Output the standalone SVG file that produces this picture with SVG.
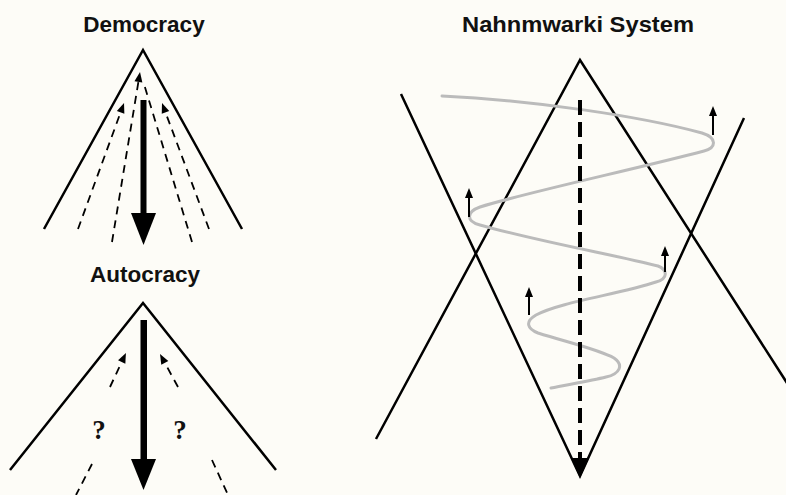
<svg xmlns="http://www.w3.org/2000/svg" width="786" height="495" viewBox="0 0 786 495">
<defs>
<style>
.title{font-family:"Liberation Sans",Arial,sans-serif;font-weight:bold;font-size:22.5px;fill:#111;text-anchor:middle}
.q{font-family:"Liberation Serif","Times New Roman",serif;font-weight:bold;font-size:27px;fill:#111;text-anchor:middle}
.edge{fill:none;stroke:#000;stroke-width:2.5;stroke-linejoin:miter;stroke-miterlimit:10}
.dash{fill:none;stroke:#000;stroke-width:1.8;stroke-dasharray:8 6}
.bigdash{fill:none;stroke:#000;stroke-width:4;stroke-dasharray:15 7}
.thin{fill:none;stroke:#000;stroke-width:2}
.spiral{fill:none;stroke:#bbb;stroke-width:3;stroke-linecap:round}
.solid{fill:#000}
</style>
<marker id="ah" markerUnits="userSpaceOnUse" markerWidth="12" markerHeight="10" refX="0" refY="5" orient="auto" overflow="visible">
<path d="M0,1 L10,5 L0,9 z" fill="#000"/>
</marker>
</defs>
<rect width="786" height="495" fill="#fdfcf7"/>

<g id="democracy">
<text class="title" x="144" y="32">Democracy</text>
<polyline class="edge" points="44,229 143,50 242,229"/>
<rect class="solid" x="140.5" y="100" width="6" height="114"/>
<polygon class="solid" points="131,213 156,213 143.5,245"/>
</g>

<g id="autocracy">
<text class="title" x="145" y="282">Autocracy</text>
<polyline class="edge" points="10,470 143,303 276,470"/>
<rect class="solid" x="140.5" y="320" width="6.5" height="140"/>
<polygon class="solid" points="131,459 156,459 143.5,490"/>
<text class="q" x="99" y="439">?</text>
<text class="q" x="180" y="439">?</text>
</g>

<g id="nahnmwarki">
<text class="title" x="578" y="32" textLength="232" lengthAdjust="spacingAndGlyphs">Nahnmwarki System</text>
<polyline class="edge" points="376,439 580,60 787,383"/>
<polyline class="edge" points="401,94 580,476 744,118"/>
<path class="spiral" d="M442,96 C530,100 640,116 702,133 C718,138 716,148 704,151 C640,168 520,194 480,207 C466,212 466,221 480,225 C540,242 620,256 658,266 C668,270 668,279 656,282 C620,294 560,302 536,315 C524,322 528,329 538,333 C570,343 600,350 614,358 C624,365 620,374 606,377 C590,381 565,385 551,388"/>
</g>

<g id="connectors">
<line class="dash" x1="78" y1="229" x2="120.6" y2="112.4" marker-end="url(#ah)"/>
<line class="dash" x1="209" y1="229" x2="165.5" y2="112.4" marker-end="url(#ah)"/>
<line class="dash" x1="112" y1="242" x2="138.4" y2="81.9" marker-end="url(#ah)"/>
<line class="dash" x1="192" y1="242" x2="144" y2="84"/>
<line class="dash" x1="110" y1="387" x2="121.7" y2="362" marker-end="url(#ah)"/>
<line class="dash" x1="178" y1="387" x2="164.8" y2="362.8" marker-end="url(#ah)"/>
<line class="dash" x1="92" y1="464" x2="76" y2="495"/>
<line class="dash" x1="212" y1="460" x2="228" y2="495"/>
<line class="bigdash" x1="580" y1="100" x2="580" y2="460"/>
<polygon class="solid" points="571,458 589,458 580,478"/>
<line class="thin" x1="713" y1="135" x2="713" y2="116" marker-end="url(#ah)"/>
<line class="thin" x1="469" y1="217" x2="469" y2="198" marker-end="url(#ah)"/>
<line class="thin" x1="665" y1="272" x2="665" y2="256" marker-end="url(#ah)"/>
<line class="thin" x1="529" y1="315" x2="529" y2="297" marker-end="url(#ah)"/>
</g>
</svg>
